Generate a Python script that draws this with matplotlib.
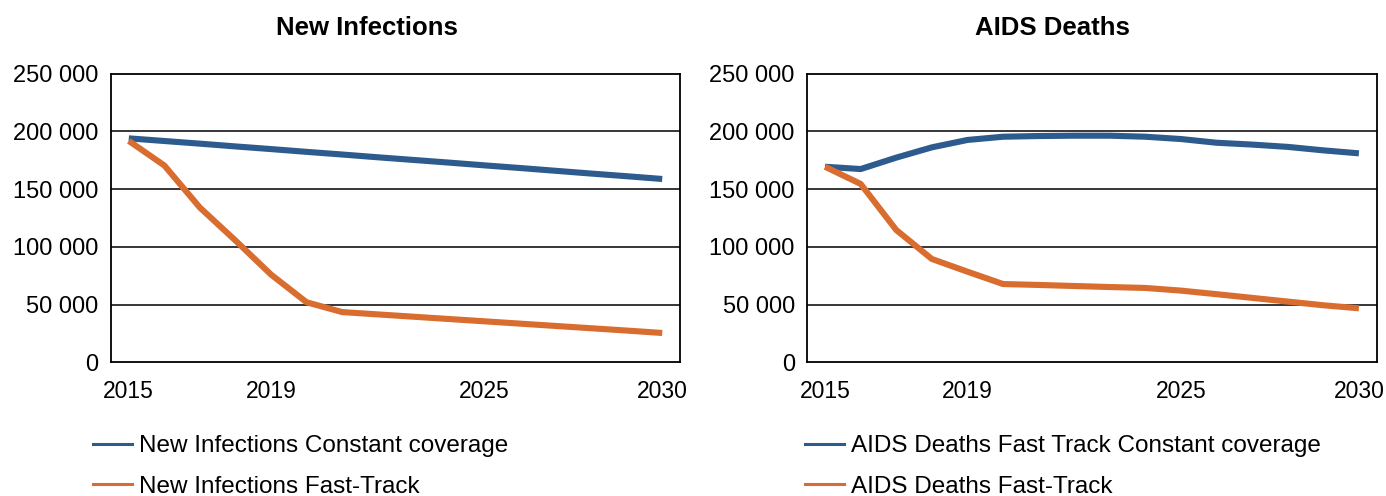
import matplotlib
matplotlib.use("Agg")
import matplotlib.pyplot as plt
from matplotlib.ticker import FuncFormatter
from matplotlib.lines import Line2D

plt.rcParams['font.family'] = ['Liberation Sans', 'DejaVu Sans']

years = list(range(2015, 2031))
xtick_years = [2015, 2019, 2025, 2030]
yticks = [0, 50000, 100000, 150000, 200000, 250000]

ni_constant = [194000, 191700, 189400, 187000, 184700, 182300, 180000, 177600,
               175300, 173000, 170600, 168300, 165900, 163500, 161200, 158800]
ni_fast = [191800, 170500, 134000, 105500, 76000, 52000, 43500, 41500,
           39500, 37500, 35500, 33500, 31500, 29500, 27500, 25400]

ad_constant = [169400, 167400, 177300, 186200, 192600, 195400, 196000, 196300,
               196300, 195400, 193400, 190200, 188600, 186600, 183600, 181000]
ad_fast = [169400, 154500, 114600, 89500, 78500, 67800, 67000, 66100,
           65200, 64400, 62100, 59000, 55800, 52600, 49400, 46800]

titles = ["New Infections", "AIDS Deaths"]
labels_left = ["New Infections Constant coverage", "New Infections Fast-Track"]
labels_right = ["AIDS Deaths Fast Track Constant coverage", "AIDS Deaths Fast-Track"]

BLUE = "#2d5b8d"
ORANGE = "#d96c2f"

W, H = 1386, 496
fig = plt.figure(figsize=(W / 100, H / 100), dpi=100)

def px_axes(x0, x1, ytop, ybot):
    return fig.add_axes([x0 / W, 1 - ybot / H, (x1 - x0) / W, (ybot - ytop) / H])

ax1 = px_axes(111, 680, 73.7, 362.3)
ax2 = px_axes(807.3, 1376.7, 73.7, 362.3)

fmt = FuncFormatter(lambda v, p: f"{int(v):,}".replace(",", " "))

series = [(ax1, ni_constant, ni_fast), (ax2, ad_constant, ad_fast)]
for ax, a, b in series:
    for y in yticks[1:-1]:
        ax.axhline(y, color="black", lw=1.1, zorder=1)
    ax.plot(years, a, color=BLUE, lw=4.4, solid_capstyle="butt", zorder=3)
    ax.plot(years, b, color=ORANGE, lw=4.4, solid_capstyle="butt", zorder=3)
    ax.set_xlim(2014.5, 2030.5)
    ax.set_ylim(0, 250000)
    ax.set_xticks(xtick_years)
    ax.set_yticks(yticks)
    ax.yaxis.set_major_formatter(fmt)
    ax.tick_params(length=0, colors="black")
    ax.tick_params(axis="y", pad=9, labelsize=17)
    ax.tick_params(axis="x", pad=13, labelsize=16.5)
    for s in ax.spines.values():
        s.set_color("black")
        s.set_linewidth(1.3)

fig.text(367 / W, 1 - 28 / H, titles[0], ha="center", va="center", fontsize=18.5, fontweight="bold")
fig.text(1052 / W, 1 - 28 / H, titles[1], ha="center", va="center", fontsize=18.5, fontweight="bold")

def make_legend(x, labs):
    handles = [Line2D([0], [0], color=BLUE, lw=2.2), Line2D([0], [0], color=ORANGE, lw=2.2)]
    return fig.legend(handles, labs, loc="upper left", bbox_to_anchor=(x / W, 1 - 435 / H),
                      frameon=False, fontsize=17.5, handlelength=1.6, handletextpad=0.3,
                      labelspacing=0.78, borderpad=0, borderaxespad=0)

make_legend(93, labels_left)
make_legend(805, labels_right)

fig.savefig("out.png", dpi=100)
